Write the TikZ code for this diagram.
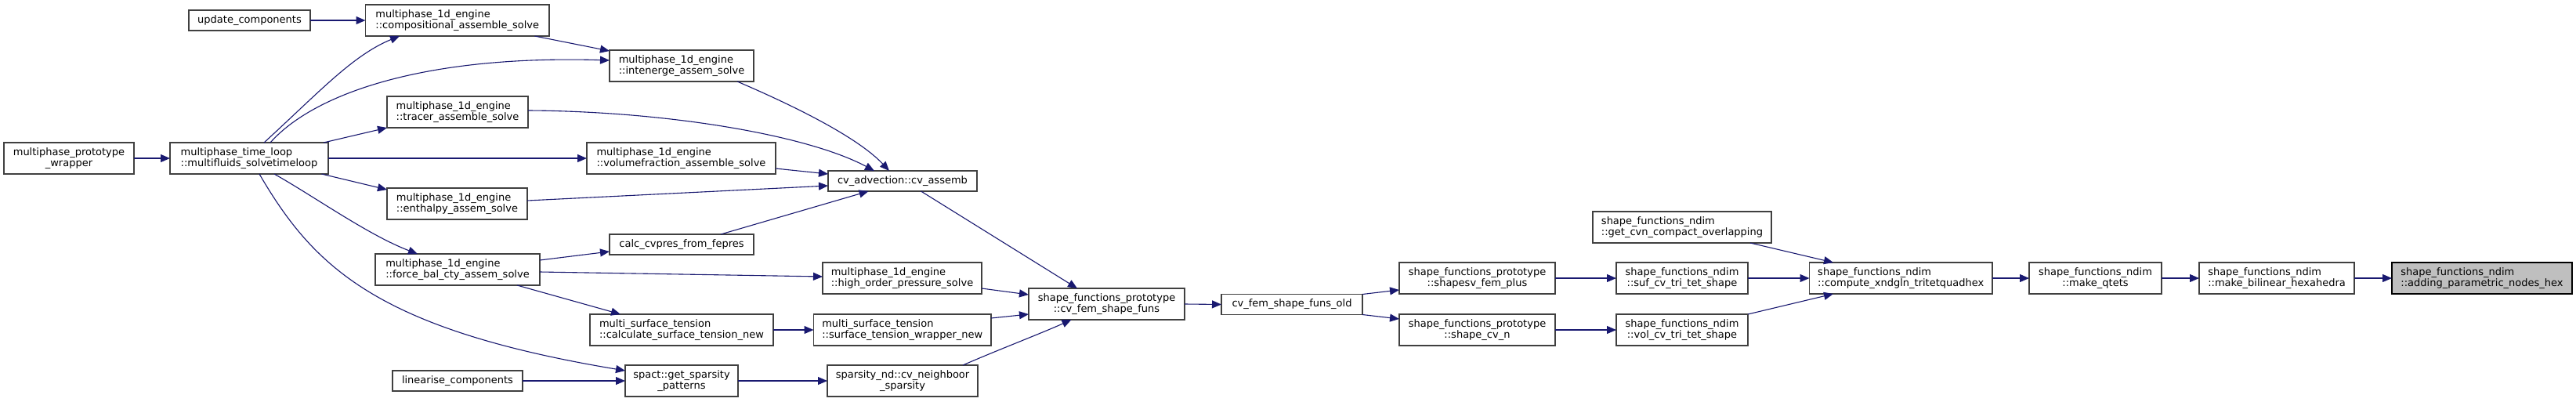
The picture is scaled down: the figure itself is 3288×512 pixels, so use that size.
\documentclass[tikz,border=0pt]{standalone}
\usepackage{fontspec}
\setmainfont{DejaVu Sans}
\usetikzlibrary{arrows.meta,calc}
\definecolor{edgec}{HTML}{191970}
\definecolor{bordc}{HTML}{404040}
\definecolor{hlfill}{HTML}{BFBFBF}
\begin{document}
\begin{tikzpicture}[x=1pt,y=-1pt,
  box/.style={draw=bordc, line width=1.2pt, fill=white, outer sep=0pt, inner sep=3pt,
    anchor=north west, font=\fontsize{13}{14}\selectfont, minimum height=40pt, align=left},
  one/.style={box, minimum height=26pt},
  cbox/.style={box, align=center},
  hl/.style={box, fill=hlfill, draw=black},
  conn/.style={draw=edgec, line width=1.1pt, -{Triangle[length=12pt,width=10pt]}}]
\useasboundingbox[fill=white] (0,0) rectangle (3288,512);

% nodes
\node[cbox, minimum width=166] (wrap) at (5,182) {multiphase\_prototype\\\_wrapper};
\node[box, minimum width=202] (tl) at (217,182) {multiphase\_time\_loop\\::multifluids\_solvetimeloop};
\node[one, minimum width=155] (upd) at (241,13) {update\_components};
\node[box, minimum width=234.5] (comp) at (466.5,6) {multiphase\_1d\_engine\\::compositional\_assemble\_solve};
\node[box, minimum width=184] (int) at (778,64) {multiphase\_1d\_engine\\::intenerge\_assem\_solve};
\node[box, minimum width=180] (tr) at (494,123) {multiphase\_1d\_engine\\::tracer\_assemble\_solve};
\node[box, minimum width=241] (vf) at (749,182) {multiphase\_1d\_engine\\::volumefraction\_assemble\_solve};
\node[box, minimum width=179] (en) at (494,240) {multiphase\_1d\_engine\\::enthalpy\_assem\_solve};
\node[one, minimum width=184] (cc) at (778,299) {calc\_cvpres\_from\_fepres};
\node[box, minimum width=210] (fb) at (479,324) {multiphase\_1d\_engine\\::force\_bal\_cty\_assem\_solve};
\node[box, minimum width=234] (cst) at (753,401) {multi\_surface\_tension\\::calculate\_surface\_tension\_new};
\node[one, minimum width=166] (lin) at (501,473) {linearise\_components};
\node[cbox, minimum width=144] (sp) at (798,466) {spact::get\_sparsity\\\_patterns};
\node[one, minimum width=190] (cv) at (1057,218) {cv\_advection::cv\_assemb};
\node[box, minimum width=203] (ho) at (1050,335) {multiphase\_1d\_engine\\::high\_order\_pressure\_solve};
\node[box, minimum width=226.5] (stw) at (1038.5,401) {multi\_surface\_tension\\::surface\_tension\_wrapper\_new};
\node[cbox, minimum width=192] (sn) at (1056,466) {sparsity\_nd::cv\_neighboor\\\_sparsity};
\node[cbox, minimum width=199] (sf) at (1313,368) {shape\_functions\_prototype\\::cv\_fem\_shape\_funs};
\node[one, minimum width=180] (old) at (1559,375.5) {cv\_fem\_shape\_funs\_old};
\node[cbox, minimum width=199] (sv) at (1786,335) {shape\_functions\_prototype\\::shapesv\_fem\_plus};
\node[cbox, minimum width=199] (scn) at (1786,401) {shape\_functions\_prototype\\::shape\_cv\_n};
\node[box, minimum width=228] (gc) at (2033,270) {shape\_functions\_ndim\\::get\_cvn\_compact\_overlapping};
\node[cbox, minimum width=168] (suf) at (2063,335) {shape\_functions\_ndim\\::suf\_cv\_tri\_tet\_shape};
\node[cbox, minimum width=168] (vol) at (2063,401) {shape\_functions\_ndim\\::vol\_cv\_tri\_tet\_shape};
\node[box, minimum width=233.5] (cx) at (2309.5,335) {shape\_functions\_ndim\\::compute\_xndgln\_tritetquadhex};
\node[cbox, minimum width=169] (mq) at (2590,335) {shape\_functions\_ndim\\::make\_qtets};
\node[box, minimum width=198] (mb) at (2807,335) {shape\_functions\_ndim\\::make\_bilinear\_hexahedra};
\node[hl, minimum width=230] (ad) at (3053,335) {shape\_functions\_ndim\\::adding\_parametric\_nodes\_hex};

% connectors
\draw[conn] (upd.east) -- (comp.west);
\draw[conn] (wrap.east) -- (tl.west);
\draw[conn] ($(tl.north west)+(120,0)$) .. controls (407,118) and (450,70.6) .. ($(comp.south west)+(43.5,0)$);
\draw[conn] ($(tl.north west)+(128,0)$) .. controls (400,120) and (540,70) .. ($(int.north west)+(0,13)$);
\draw[conn] ($(tl.north west)+(196,0)$) -- (tr.south west);
\draw[conn] (tl.east) -- (vf.west);
\draw[conn] ($(tl.south west)+(193.5,0)$) -- ($(en.north west)+(0,2)$);
\draw[conn] ($(tl.south west)+(133,0)$) .. controls (400,250) and (470,300) .. ($(fb.north west)+(54,0)$);
\draw[conn] ($(tl.south west)+(114,0)$) .. controls (400,340) and (480,420) .. ($(sp.north west)+(0,7)$);
\draw[conn] ($(comp.south west)+(216,0)$) -- ($(int.north west)+(0,1)$);
\draw[conn] ($(int.south west)+(163,0)$) .. controls (990,125) and (1090,170) .. ($(cv.north west)+(78,0)$);
\draw[conn] ($(tr.north east)+(0,18)$) .. controls (850,142) and (1030,172) .. ($(cv.north west)+(59,0)$);
\draw[conn] ($(vf.north east)+(0,33)$) -- ($(cv.north west)+(0,4)$);
\draw[conn] ($(en.north east)+(0,16)$) -- ($(cv.north west)+(0,19)$);
\draw[conn] ($(cc.north west)+(142,0)$) -- ($(cv.south west)+(51.6,0)$);
\draw[conn] ($(fb.north east)+(0,8)$) -- ($(cc.north west)+(0,22)$);
\draw[conn] ($(fb.north east)+(0,23)$) -- ($(ho.north west)+(0,18)$);
\draw[conn] ($(fb.south west)+(181,0)$) -- ($(cst.north west)+(39,0)$);
\draw[conn] (cst.east) -- (stw.west);
\draw[conn] (lin.east) -- (sp.west);
\draw[conn] (sp.east) -- (sn.west);
\draw[conn] ($(cv.south west)+(118.5,0)$) -- ($(sf.north west)+(62,0)$);
\draw[conn] ($(ho.north east)+(0,33)$) -- ($(sf.north west)+(0,8)$);
\draw[conn] ($(stw.north east)+(0,5)$) -- ($(sf.north west)+(0,33)$);
\draw[conn] ($(sn.north west)+(173,0)$) .. controls (1270,448) and (1330,425) .. ($(sf.south west)+(54.5,0)$);
\draw[conn] (sf.east) -- (old.west);
\draw[conn] (old.north east) -- ($(sv.north west)+(0,35)$);
\draw[conn] (old.south east) -- ($(scn.north west)+(0,6)$);
\draw[conn] (sv.east) -- (suf.west);
\draw[conn] (scn.east) -- (vol.west);
\draw[conn] ($(gc.south west)+(201,0)$) -- ($(cx.north west)+(30.5,0)$);
\draw[conn] (suf.east) -- (cx.west);
\draw[conn] (vol.north east) -- ($(cx.south west)+(30.5,0)$);
\draw[conn] (cx.east) -- (mq.west);
\draw[conn] (mq.east) -- (mb.west);
\draw[conn] (mb.east) -- (ad.west);
\end{tikzpicture}
\end{document}
